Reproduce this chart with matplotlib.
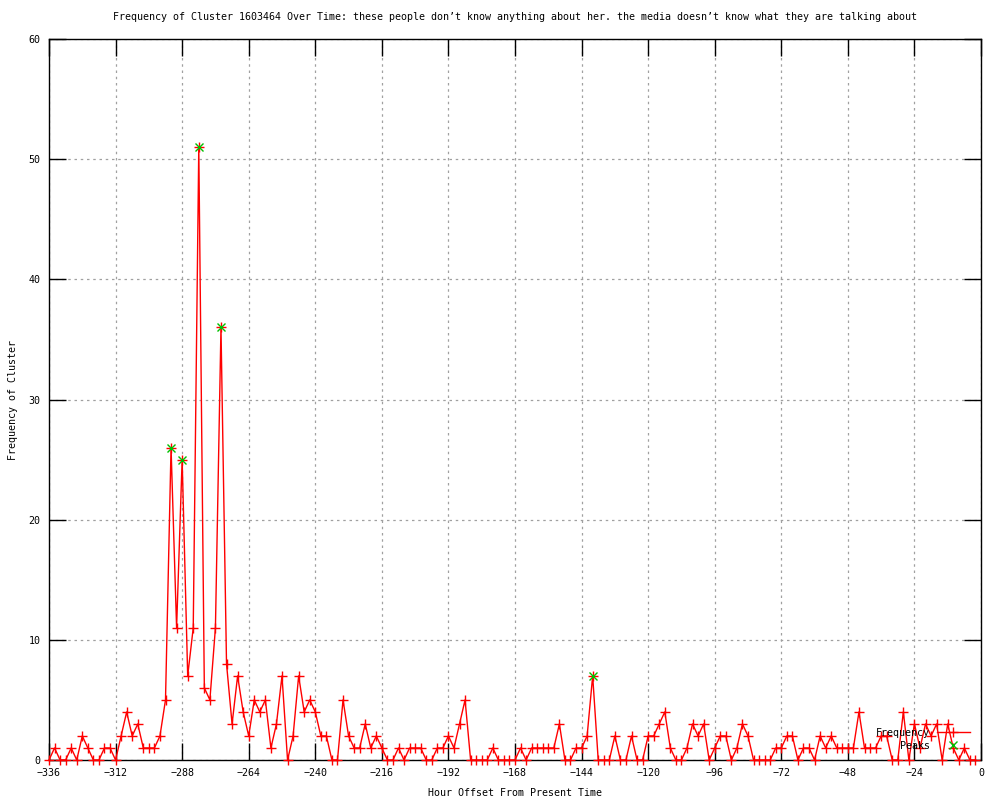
import matplotlib
matplotlib.use("Agg")
import matplotlib.pyplot as plt
import numpy as np

hours = list(range(-336, 0, 2))
frequency = [
    0, 1, 0, 0, 1, 0, 2, 1, 0, 0, 1, 1,          # -336 .. -314
    0, 2, 4, 2, 3, 1, 1, 1, 2, 5, 26, 11,        # -312 .. -290
    25, 7, 11, 51, 6, 5, 11, 36, 8, 3, 7, 4,     # -288 .. -266
    2, 5, 4, 5, 1, 3, 7, 0, 2, 7, 4, 5,          # -264 .. -242
    4, 2, 2, 0, 0, 5, 2, 1, 1, 3, 1, 2,          # -240 .. -218
    1, 0, 0, 1, 0, 1, 1, 1, 0, 0, 1, 1,          # -216 .. -194
    2, 1, 3, 5, 0, 0, 0, 0, 1, 0, 0, 0,          # -192 .. -170
    0, 1, 0, 1, 1, 1, 1, 1, 3, 0, 0, 1,          # -168 .. -146
    1, 2, 7, 0, 0, 0, 2, 0, 0, 2, 0, 0,          # -144 .. -122
    2, 2, 3, 4, 1, 0, 0, 1, 3, 2, 3, 0,          # -120 .. -98
    1, 2, 2, 0, 1, 3, 2, 0, 0, 0, 0, 1,          # -96 .. -74
    1, 2, 2, 0, 1, 1, 0, 2, 1, 2, 1, 1,          # -72 .. -50
    1, 1, 4, 1, 1, 1, 2, 2, 0, 0, 4, 0,          # -48 .. -26
    3, 1, 3, 2, 3, 0, 3, 1, 0, 1, 0, 0,          # -24 .. -2
]
peak_hours = [-292, -288, -282, -274, -140]
peak_values = [26, 25, 51, 36, 7]

x_ticks = list(range(-336, 1, 24))
y_ticks = list(range(0, 61, 10))

title = ("Frequency of Cluster 1603464 Over Time: these people don\u2019t know anything "
         "about her. the media doesn\u2019t know what they are talking about")

plt.rcParams['font.family'] = ['DejaVu Sans Mono']
FS = 7.2

fig = plt.figure(figsize=(10, 8), dpi=100)
ax = fig.add_axes([0.049, 0.05, 0.932, 0.90125])

ax.plot(hours, frequency, color='#ff0000', lw=1.0, marker='+', ms=7, mew=1.0,
        clip_on=False, zorder=3, label='Frequency')
ax.plot(peak_hours, peak_values, linestyle='none', color='#00c000', marker='x',
        ms=5.5, mew=1.0, clip_on=False, zorder=4, label='    Peaks')

ax.set_xlim(-336, 0)
ax.set_ylim(0, 60)
ax.set_xticks(x_ticks)
ax.set_yticks(y_ticks)
ax.set_xticklabels([f"{t:d}".replace('-', '\u2212') for t in x_ticks], fontsize=FS)
ax.set_yticklabels([str(t) for t in y_ticks], fontsize=FS)
ax.tick_params(direction='in', length=12, width=1.0, top=True, right=True,
               pad=6, colors='black')

ax.grid(True, color='#a0a0a0', linestyle=(0, (2, 3)), lw=0.9)
ax.set_axisbelow(True)
for s in ax.spines.values():
    s.set_linewidth(1.0)
    s.set_color('black')

ax.set_title(title, fontsize=FS, pad=14)
ax.set_xlabel("Hour Offset From Present Time", fontsize=FS, labelpad=7)
ax.set_ylabel("Frequency of Cluster", fontsize=FS, labelpad=8)

leg = ax.legend(loc='upper right', bbox_to_anchor=(0.988, 0.0444),
                frameon=False, markerfirst=False, fontsize=FS, numpoints=1,
                handlelength=3.3, handletextpad=0.7, labelspacing=0.3,
                borderpad=0, borderaxespad=0)

fig.savefig("out.png", dpi=100)
